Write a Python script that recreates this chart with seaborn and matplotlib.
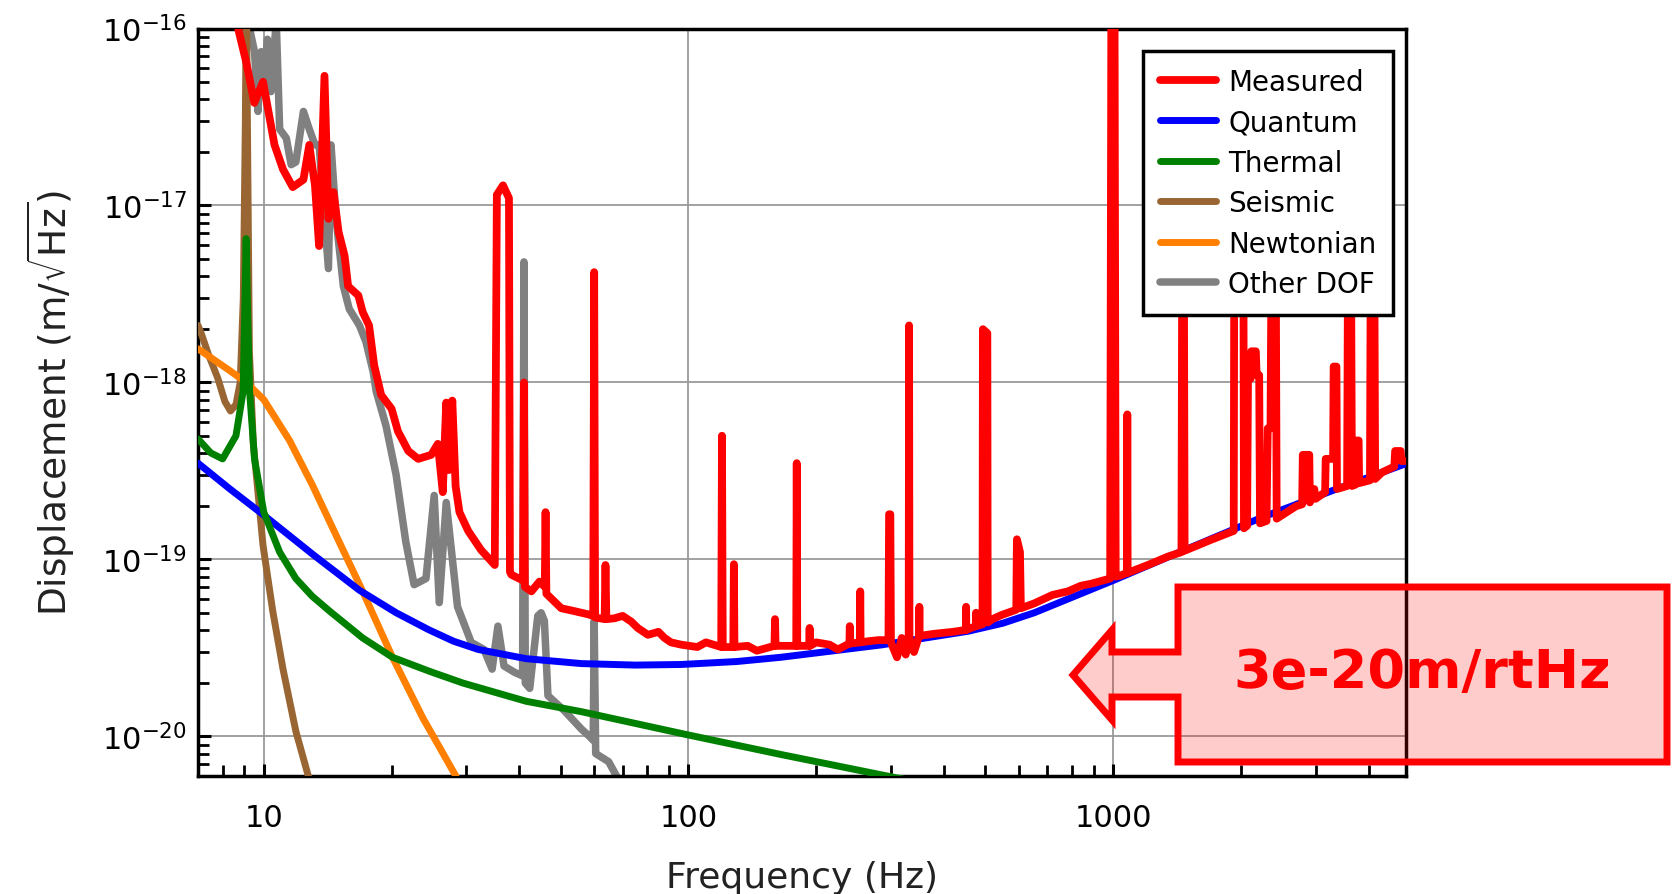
import math

import matplotlib
matplotlib.use("Agg")
import matplotlib.pyplot as plt
import seaborn as sns
from matplotlib.patches import Polygon
from matplotlib.ticker import FixedLocator, LogLocator, FuncFormatter, NullFormatter

# ---- data (frequency in Hz, displacement in m/rtHz) ----
meas_freq = [
    8.3, 8.7, 9.1, 9.5, 9.96, 10.6, 11.1, 11.7, 12.4, 12.8,
    13.2, 13.5, 13.9, 14.2, 14.6, 15.0, 15.5, 15.8, 16.7, 17.1,
    17.7, 18.2, 18.9, 20.0, 20.7, 21.9, 23.1, 24.8, 25.7, 26.4,
    26.9, 27.3, 27.8, 28.3, 28.9, 30.3, 32.5, 35.0, 35.4, 36.6,
    37.8, 38.0, 38.3, 40.8, 41.0, 41.2, 42.7, 44.6, 45.9, 46.1,
    46.3, 47.6, 50.2, 54.0, 58.0, 59.7, 60.0, 60.3, 63.5, 63.8,
    64.1, 67.0, 70.0, 73.4, 76.0, 80.3, 85.0, 87.9, 91.0, 96.2,
    105, 110, 119.5, 120, 120.5, 127.6, 128, 128.4, 138, 145,
    159.5, 160, 160.5, 179.5, 180, 180.5, 192.5, 193, 193.5, 200,
    215, 225, 239.5, 240, 240.5, 253.5, 254, 254.5, 265, 280,
    296, 297, 299, 300, 310, 318, 325, 330.3, 331, 331.7,
    340, 349.5, 350, 350.5, 379, 420, 450.5, 451, 451.5, 475.5,
    476, 476.5, 493, 494, 506, 507, 520, 546, 592, 594,
    604, 607, 653, 720, 783, 840, 890, 985, 992, 1008,
    1015, 1040, 1079, 1081, 1083, 1208, 1350, 1450, 1455, 1470,
    1475, 1700, 1925, 1930, 2030, 2035, 2070, 2080, 2110, 2118,
    2170, 2180, 2210, 2220, 2300, 2315, 2350, 2360, 2420, 2430,
    2700, 2790, 2800, 2900, 2910, 2980, 3000, 3160, 3170, 3300,
    3310, 3360, 3370, 3560, 3575, 3640, 3655, 3730, 3743, 3790,
    3800, 4030, 4044, 4130, 4145, 4300, 4600, 4620, 4760, 4775,
    4950,
]
meas_asd = [
    2.0e-16, 1.0e-16, 6.4e-17, 3.8e-17, 5.0e-17, 2.2e-17, 1.6e-17, 1.27e-17, 1.4e-17, 2.2e-17,
    1.3e-17, 5.9e-18, 5.4e-17, 8.4e-18, 1.19e-17, 7.1e-18, 5.2e-18, 3.5e-18, 3.1e-18, 2.5e-18,
    2.1e-18, 1.25e-18, 8.5e-19, 7.1e-19, 5.3e-19, 4.1e-19, 3.7e-19, 3.9e-19, 4.5e-19, 2.4e-19,
    7.7e-19, 3.2e-19, 7.9e-19, 2.6e-19, 1.85e-19, 1.45e-19, 1.13e-19, 9.3e-20, 1.15e-17, 1.3e-17,
    1.1e-17, 8.5e-20, 8.2e-20, 7.6e-20, 1.0e-18, 7.0e-20, 6.6e-20, 7.5e-20, 7.0e-20, 1.85e-19,
    6.4e-20, 6.0e-20, 5.3e-20, 5.1e-20, 4.9e-20, 4.8e-20, 4.2e-18, 4.7e-20, 4.6e-20, 9.3e-20,
    4.6e-20, 4.65e-20, 4.8e-20, 4.45e-20, 4.1e-20, 3.75e-20, 3.9e-20, 3.6e-20, 3.4e-20, 3.3e-20,
    3.2e-20, 3.4e-20, 3.2e-20, 5.0e-19, 3.2e-20, 3.2e-20, 9.4e-20, 3.2e-20, 3.25e-20, 3.05e-20,
    3.25e-20, 4.6e-20, 3.25e-20, 3.25e-20, 3.5e-19, 3.25e-20, 3.25e-20, 4.1e-20, 3.25e-20, 3.4e-20,
    3.3e-20, 3.1e-20, 3.35e-20, 4.2e-20, 3.35e-20, 3.4e-20, 6.6e-20, 3.4e-20, 3.45e-20, 3.5e-20,
    3.5e-20, 1.8e-19, 1.8e-19, 3.4e-20, 2.8e-20, 3.6e-20, 2.9e-20, 3.6e-20, 2.1e-18, 3.6e-20,
    3.0e-20, 3.7e-20, 5.4e-20, 3.7e-20, 3.8e-20, 3.9e-20, 4.0e-20, 5.4e-20, 4.0e-20, 4.2e-20,
    5.0e-20, 4.2e-20, 4.3e-20, 2.0e-18, 1.9e-18, 4.4e-20, 4.6e-20, 4.85e-20, 5.2e-20, 1.3e-19,
    1.1e-19, 5.3e-20, 5.65e-20, 6.3e-20, 6.6e-20, 7.1e-20, 7.3e-20, 7.8e-20, 3e-16, 3e-16,
    8.0e-20, 8.1e-20, 8.4e-20, 6.6e-19, 8.4e-20, 9.3e-20, 1.04e-19, 1.1e-19, 3e-18, 3e-18,
    1.12e-19, 1.29e-19, 1.45e-19, 3e-18, 3e-18, 1.5e-19, 1.55e-19, 1.05e-18, 1.05e-18, 1.5e-18,
    1.5e-18, 1.1e-18, 1.1e-18, 1.6e-19, 1.65e-19, 5.5e-19, 5.5e-19, 3e-18, 3e-18, 1.7e-19,
    2.0e-19, 2.05e-19, 3.9e-19, 3.9e-19, 2.1e-19, 2.5e-19, 2.2e-19, 2.4e-19, 3.7e-19, 3.7e-19,
    1.23e-18, 1.23e-18, 2.5e-19, 2.6e-19, 3e-18, 3e-18, 2.6e-19, 2.65e-19, 4.7e-19, 4.7e-19,
    2.7e-19, 2.8e-19, 3e-18, 3e-18, 2.85e-19, 3.1e-19, 3.35e-19, 4.1e-19, 4.1e-19, 3.6e-19,
    3.6e-19,
]

quantum_freq = [7.0, 8.29, 10.0, 13.1, 16.8, 20.5, 24.5, 28.0, 32.0, 41.5,
                56.0, 75.0, 96.0, 130, 165, 285, 456, 550, 653, 1007,
                1448, 2232, 3318, 4775, 4950]
quantum_asd = [3.5e-19, 2.52e-19, 1.78e-19, 1.06e-19, 6.7e-20, 5.0e-20, 4.0e-20, 3.45e-20, 3.1e-20, 2.75e-20,
               2.58e-20, 2.53e-20, 2.55e-20, 2.65e-20, 2.8e-20, 3.29e-20, 3.93e-20, 4.36e-20, 5.0e-20, 7.65e-20,
               1.11e-19, 1.72e-19, 2.47e-19, 3.4e-19, 3.5e-19]

thermal_freq = [7.0, 7.5, 8.0, 8.6, 8.94, 9.02, 9.09, 9.16, 9.26, 9.51,
                10.0, 10.9, 11.9, 13.0, 14.3, 17.1, 20.1, 24.6, 29.5, 41.5,
                56.0, 99.8, 165.5, 284.6, 350]
thermal_asd = [4.8e-19, 4.0e-19, 3.7e-19, 5.0e-19, 8.9e-19, 2.5e-18, 6.5e-18, 2.5e-18, 8.9e-19, 3.7e-19,
               1.85e-19, 1.1e-19, 7.8e-20, 6.2e-20, 5.1e-20, 3.6e-20, 2.8e-20, 2.33e-20, 2.0e-20, 1.58e-20,
               1.38e-20, 1.02e-20, 7.9e-21, 6.07e-21, 5.5e-21]

seismic_freq = [7.0, 7.12, 7.4, 7.8, 8.1, 8.35, 8.6, 8.8, 8.95, 9.05,
                9.1, 9.15, 9.25, 9.45, 9.69, 9.96, 10.5, 11.1, 11.9, 12.7, 13.2]
seismic_asd = [2.1e-18, 1.9e-18, 1.45e-18, 1.05e-18, 7.8e-19, 6.9e-19, 7.5e-19, 1.0e-18, 3e-18, 3e-17,
               2e-16, 3e-17, 1.5e-18, 4.5e-19, 2.4e-19, 1.2e-19, 5.1e-20, 2.4e-20, 1.07e-20, 6.1e-21, 4.5e-21]

newton_freq = [7.0, 8.3, 9.09, 10.0, 11.5, 13.05, 14.8, 17.1, 20.1, 23.7, 28.2, 30.0]
newton_asd = [1.55e-18, 1.17e-18, 1.0e-18, 8.0e-19, 4.7e-19, 2.6e-19, 1.37e-19, 6.6e-20, 2.8e-20, 1.27e-20, 6.1e-21, 4.5e-21]

other_freq = [9.0, 9.26, 9.51, 9.69, 9.86, 10.0, 10.2, 10.4, 10.7, 10.9,
              11.3, 11.6, 11.9, 12.4, 12.8, 13.2, 13.5, 14.2, 14.4, 14.8,
              15.4, 15.9, 16.8, 17.4, 18.1, 18.4, 19.4, 20.5, 21.6, 22.6,
              24.1, 25.2, 25.9, 26.9, 28.6, 30.8, 33.0, 34.5, 35.6, 36.8,
              39.0, 40.7, 41.0, 41.3, 42.3, 44.2, 45.0, 45.8, 46.7, 51.0,
              56.0, 58.5, 59.7, 60.0, 60.5, 64.9, 68.2, 72.0]
other_asd = [2e-16, 1e-16, 7.4e-17, 3.4e-17, 7.4e-17, 4.8e-17, 8.7e-17, 4.4e-17, 1.1e-16, 2.7e-17,
             2.4e-17, 1.7e-17, 1.76e-17, 3.4e-17, 2.7e-17, 2.2e-17, 2.2e-17, 4.4e-18, 2.2e-17, 8.4e-18,
             3.5e-18, 2.6e-18, 2.1e-18, 1.7e-18, 1.15e-18, 8.9e-19, 5.7e-19, 3.0e-19, 1.26e-19, 7.2e-20,
             7.8e-20, 2.3e-19, 5.7e-20, 2.1e-19, 5.4e-20, 3.4e-20, 3.1e-20, 2.4e-20, 4.2e-20, 2.5e-20,
             2.3e-20, 2.2e-20, 4.8e-18, 2.0e-20, 1.87e-20, 4.8e-20, 5.0e-20, 4.5e-20, 1.7e-20, 1.4e-20,
             1.1e-20, 1.0e-20, 9.5e-21, 4.5e-20, 8e-21, 7.2e-21, 5.8e-21, 5e-21]

legend_order = ["Measured", "Quantum", "Thermal", "Seismic", "Newtonian", "Other DOF"]
x_major = [10, 100, 1000]
y_major = [1e-20, 1e-19, 1e-18, 1e-17, 1e-16]

# ---- style ----
sns.set_theme(style="white")
plt.rcParams["font.family"] = ["DejaVu Sans"]
plt.rcParams["mathtext.fontset"] = "dejavusans"
plt.rcParams["text.color"] = "black"
plt.rcParams["axes.labelcolor"] = "black"
plt.rcParams["xtick.color"] = "black"
plt.rcParams["ytick.color"] = "black"

W, H = 1681, 895
fig = plt.figure(figsize=(W / 100, H / 100), dpi=100)
fig.patch.set_facecolor("white")
# axes box in pixels: left 198, right 1406, top 29.5, bottom 776.7
ax = fig.add_axes([198 / W, 1 - 776.7 / H, 1208 / W, 747.2 / H])

# (label, freq, asd, colour, width, zorder) -- draw order differs from legend order
series = [
    ("Other DOF", other_freq, other_asd, "#808080", 5.4, 2),
    ("Seismic", seismic_freq, seismic_asd, "#996633", 5.0, 3),
    ("Newtonian", newton_freq, newton_asd, "#ff8000", 5.0, 4),
    ("Quantum", quantum_freq, quantum_asd, "#0000ff", 5.0, 5),
    ("Thermal", thermal_freq, thermal_asd, "#008000", 5.0, 6),
    ("Measured", meas_freq, meas_asd, "#ff0000", 5.6, 7),
]
for name, f, v, col, lw, z in series:
    assert len(f) == len(v), name
    sns.lineplot(x=f, y=v, ax=ax, color=col, linewidth=lw, label=name,
                 sort=False, estimator=None, zorder=z)

ax.set_xscale("log")
ax.set_yscale("log")
ax.set_xlim(7, 4900)
ax.set_ylim(6e-21, 1e-16)

ax.xaxis.set_major_locator(FixedLocator(x_major))
ax.xaxis.set_minor_locator(LogLocator(base=10, subs=range(2, 10), numticks=20))
ax.xaxis.set_major_formatter(FuncFormatter(lambda val, pos: f"{val:g}"))
ax.xaxis.set_minor_formatter(NullFormatter())
ax.yaxis.set_major_locator(FixedLocator(y_major))
ax.yaxis.set_minor_locator(LogLocator(base=10, subs=range(2, 10), numticks=20))
ax.yaxis.set_major_formatter(
    FuncFormatter(lambda val, pos: r"$10^{%d}$" % round(math.log10(val))))
ax.yaxis.set_minor_formatter(NullFormatter())

ax.tick_params(which="both", direction="in", left=True, bottom=True,
               top=False, right=False, color="black", labelcolor="black")
ax.tick_params(which="major", length=9, width=2.2, labelsize=22)
ax.tick_params(which="minor", length=8, width=2.0)
ax.tick_params(axis="x", which="major", pad=20)
ax.tick_params(axis="y", which="major", pad=8)

ax.grid(True, which="major", color="#9a9a9a", linewidth=1.3)
ax.set_axisbelow(True)
for s in ax.spines.values():
    s.set_linewidth(2.5)
    s.set_color("black")

ax.set_xlabel("Frequency (Hz)", fontsize=26, labelpad=20, color="#222222")
ax.set_ylabel(r"Displacement (m/$\sqrt{\mathrm{Hz}}$)", fontsize=27, labelpad=18,
              color="#222222")

handles, labels = ax.get_legend_handles_labels()
lookup = dict(zip(labels, handles))
leg = ax.legend([lookup[n] for n in legend_order], legend_order,
                loc="upper right",
                bbox_to_anchor=((1393 - 198) / 1208, (776.7 - 52) / 747.2),
                borderaxespad=0, fontsize=20, frameon=True, fancybox=False,
                framealpha=1, edgecolor="black", borderpad=0.6,
                labelspacing=0.45, handlelength=2.0, handletextpad=0.45)
leg.get_frame().set_linewidth(2.5)
leg.set_zorder(20)
for t in leg.get_texts():
    t.set_color("black")

# ---- callout arrow (figure pixels, y from top) ----
arrow_px = [(1073, 676), (1112, 631), (1112, 653), (1178, 653), (1178, 588),
            (1667, 588), (1667, 763), (1178, 763), (1178, 698), (1112, 698),
            (1112, 721)]
poly = Polygon([(x / W, 1 - y / H) for x, y in arrow_px], closed=True,
               transform=fig.transFigure, facecolor=(1, 0, 0, 0.2),
               edgecolor="#ff0000", linewidth=5, joinstyle="miter")
fig.add_artist(poly)
fig.text(1422.5 / W, 1 - 688 / H, "3e-20m/rtHz", color="#ff0000",
         fontsize=39, fontweight="bold", ha="center", va="baseline")

fig.savefig("out.png", dpi=100)
